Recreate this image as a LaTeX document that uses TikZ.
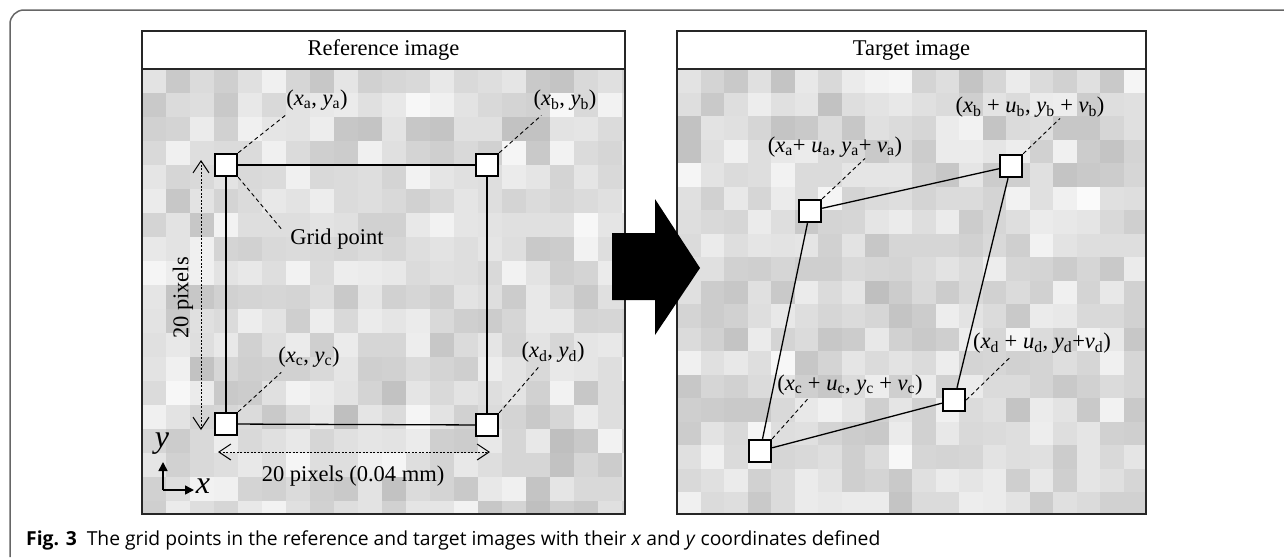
\documentclass[tikz,border=0pt]{standalone}
\usepackage{fontspec}
\setmainfont{Liberation Serif}
\newfontfamily\capfont{Open Sans}
\usetikzlibrary{arrows.meta}
\newcommand{\crd}[2]{\textit{#1}\textsubscript{#2}}
\tikzset{
  gpt/.style={draw,line width=2.4pt,fill=white,minimum size=22pt,inner sep=0pt},
  lbl/.style={font=\fontsize{22.5}{25}\selectfont,inner sep=1pt},
  leader/.style={dash pattern=on 4pt off 3pt,line width=0.9pt},
  link/.style={line width=1.3pt},
  dimline/.style={dash pattern=on 2pt off 1.5pt,line width=1pt,
    {Straight Barb[length=12pt,width=16pt]}-{Straight Barb[length=12pt,width=16pt]}},
  panel/.style={line width=2.4pt,draw=black!85},
}
\begin{document}
\begin{tikzpicture}[x=1pt,y=-1pt]
\useasboundingbox (0,0) rectangle (1284,557);
% outer frame
\draw[black!60,line width=1.5pt,rounded corners=14pt] (1284,10) -- (10,10) -- (10,557);
% pixel mosaics
\pgfmathsetseed{41}
\begin{scope}
\clip (142,69) rectangle (625,514);
\foreach \i in {0,...,20}{\foreach \j in {0,...,18}{
  \pgfmathsetmacro\g{int(2+12*rnd+12*rnd)}
  \fill[black!\g] (142+24*\i,69+24*\j) rectangle ++(24,24);
}}
\end{scope}
\begin{scope}
\clip (677,69) rectangle (1146,514);
\foreach \i in {0,...,20}{\foreach \j in {0,...,18}{
  \pgfmathsetmacro\g{int(2+12*rnd+12*rnd)}
  \fill[black!\g] (677+23.5*\i,69+23.5*\j) rectangle ++(23.5,23.5);
}}
\end{scope}
% panels
\draw[panel] (142,31) rectangle (625,514); \draw[panel] (142,69) -- (625,69);
\draw[panel] (677,31) rectangle (1146,514); \draw[panel] (677,69) -- (1146,69);
\node[lbl] (reft) at (383.5,50) {Reference image};
\node[lbl] (targ) at (911.5,50) {Target image};
% big arrow
\fill[black] (612,233) -- (655,233) -- (655,199) -- (700,268) -- (655,335) -- (655,300) -- (612,300) -- cycle;
% reference grid points
\node[gpt] (pa) at (226,165) {};
\node[gpt] (pb) at (487,165) {};
\node[gpt] (pc) at (226,424) {};
\node[gpt] (pd) at (487,425) {};
\draw[link] (pa) -- (pb); \draw[link] (pb) -- (pd);
\draw[link] (pd) -- (pc); \draw[link] (pc) -- (pa);
\node[lbl] (la) at (317,100) {(\crd{x}{a}, \crd{y}{a})};
\node[lbl] (lb) at (565,100) {(\crd{x}{b}, \crd{y}{b})};
\node[lbl] (lc) at (309,357) {(\crd{x}{c}, \crd{y}{c})};
\node[lbl] (ld) at (553,352) {(\crd{x}{d}, \crd{y}{d})};
\node[lbl] (lg) at (337,239) {Grid point};
\draw[leader] (pa.north east) -- ([yshift=-4pt]la.south west);
\draw[leader] (pb.north east) -- ([xshift=9pt,yshift=-4pt]lb.south west);
\draw[leader] (pc.north east) -- ([xshift=4pt,yshift=-4pt]lc.south west);
\draw[leader] (pd.north east) -- ([xshift=18pt,yshift=-4pt]ld.south west);
\draw[leader] (pa.south east) -- ([xshift=-7pt,yshift=9pt]lg.west);
% dimensions
\coordinate (vt) at (201,160); \coordinate (vb) at (201,430);
\coordinate (hl) at (218,452); \coordinate (hr) at (490,452);
\draw[dimline] (vt) -- (vb);
\draw[dimline] (hl) -- (hr);
\node[lbl,rotate=90] (lv) at (183,298) {20 pixels};
\node[lbl] (lh) at (353,476) {20 pixels (0.04 mm)};
% axes
\coordinate (o) at (163,490); \coordinate (ay) at (163,462); \coordinate (ax) at (194,490);
\draw[line width=1.6pt,-{Triangle[length=9pt,width=9pt]}] (o) -- (ay);
\draw[line width=1.6pt,-{Triangle[length=9pt,width=9pt]}] (o) -- (ax);
\node[font=\fontsize{32}{34}\selectfont\itshape,inner sep=0pt] (ylab) at (162,444) {y};
\node[font=\fontsize{32}{34}\selectfont\itshape,inner sep=0pt] (xlab) at (203,486) {x};
% target grid points
\node[gpt] (qa) at (810,211) {};
\node[gpt] (qb) at (1011,166) {};
\node[gpt] (qc) at (760,451) {};
\node[gpt] (qd) at (954,400) {};
\draw[link] (qa) -- (qb); \draw[link] (qb) -- (qd);
\draw[link] (qd) -- (qc); \draw[link] (qc) -- (qa);
\node[lbl] (ta) at (835,147) {(\crd{x}{a}+ \crd{u}{a}, \crd{y}{a}+ \crd{v}{a})};
\node[lbl] (tb) at (1030,107) {(\crd{x}{b} + \crd{u}{b}, \crd{y}{b} + \crd{v}{b})};
\node[lbl] (tc) at (850,385) {(\crd{x}{c} + \crd{u}{c}, \crd{y}{c} + \crd{v}{c})};
\node[lbl] (td) at (1042,343) {(\crd{x}{d} + \crd{u}{d}, \crd{y}{d}+\crd{v}{d})};
\draw[leader] (qa.north east) -- ([xshift=30pt]ta.south);
\draw[leader] (qb.north east) -- ([xshift=30pt]tb.south);
\draw[leader] (qc.north east) -- ([xshift=32pt,yshift=-2pt]tc.south west);
\draw[leader] (qd.east) -- ([xshift=39pt,yshift=-2pt]td.south west);
% caption
\node[anchor=base west,inner sep=0pt,font=\capfont\fontsize{19.3}{22}\selectfont] (cap) at (26,545)
  {\textbf{Fig. 3}\hspace{10pt}The grid points in the reference and target images with their \textit{x} and \textit{y} coordinates defined};
\end{tikzpicture}
\end{document}
